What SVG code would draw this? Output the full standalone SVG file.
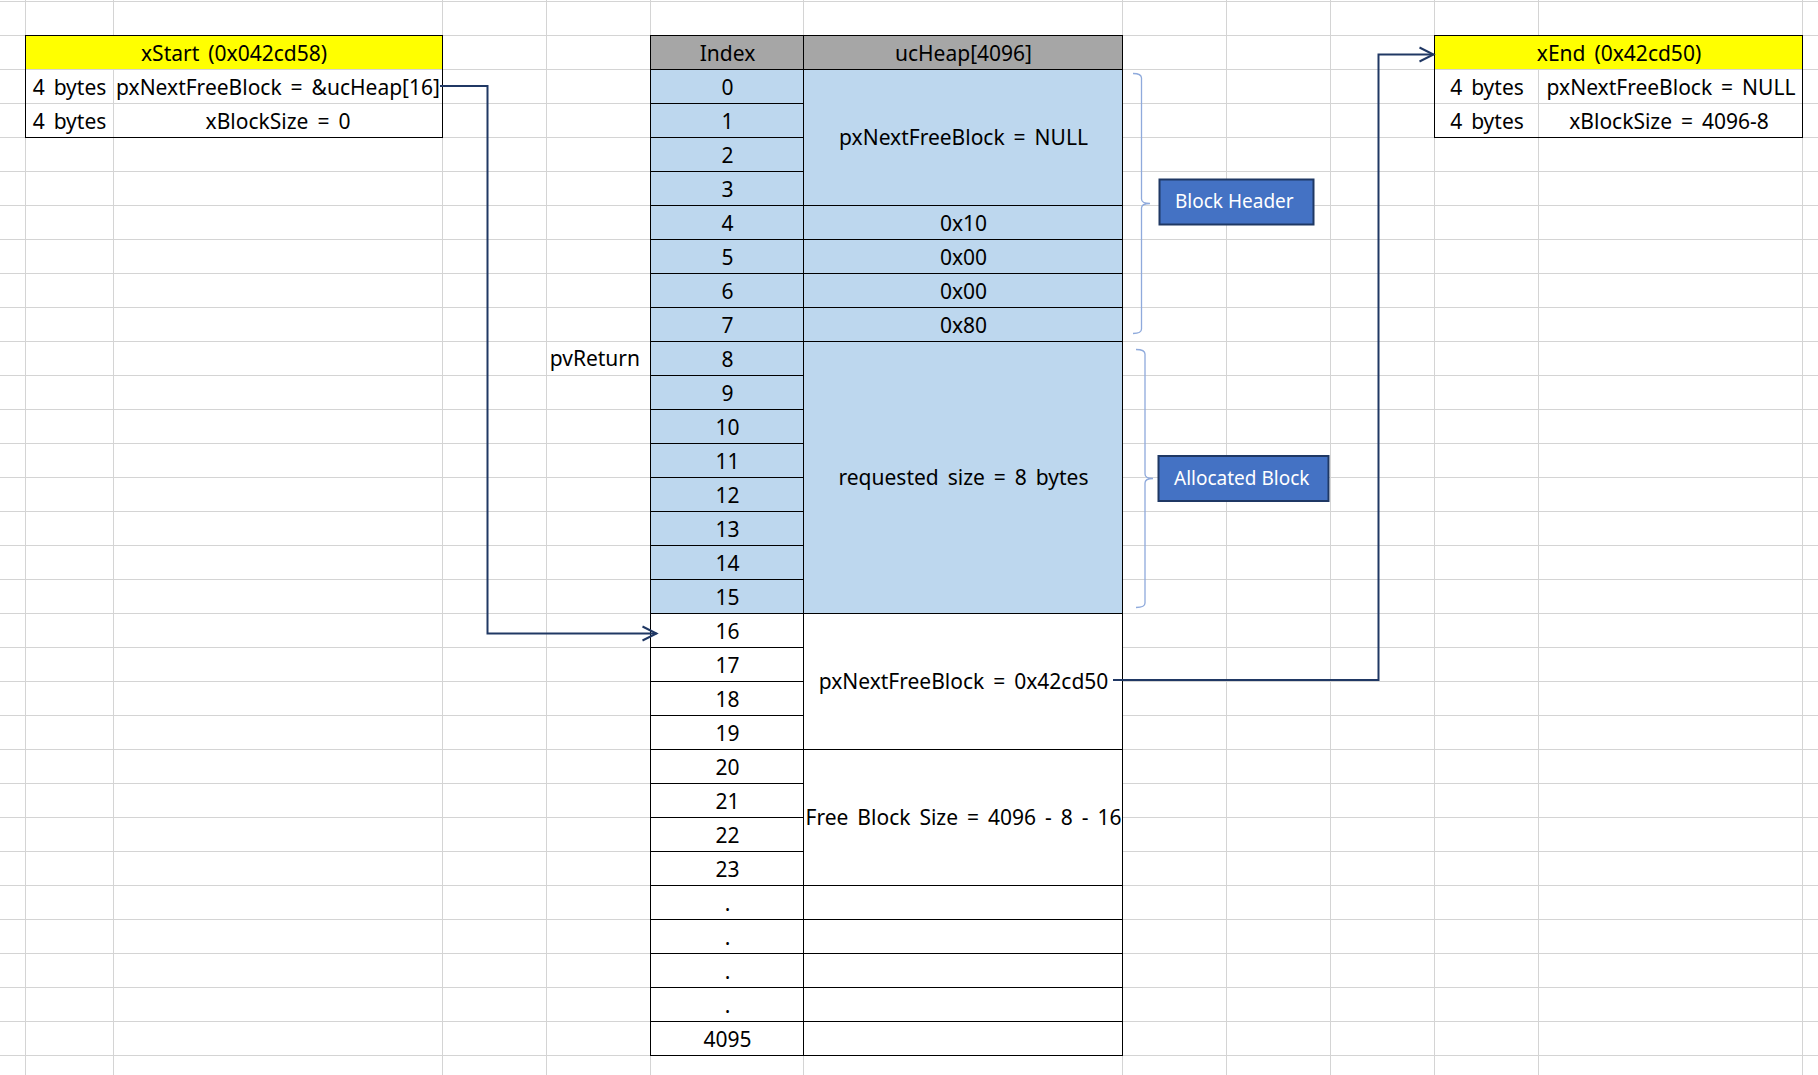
<svg xmlns="http://www.w3.org/2000/svg" width="1818" height="1075" viewBox="0 0 1818 1075">
  <defs>
    <style>
      .grid { stroke: #d4d4d4; stroke-width: 1; fill: none; }
      .t { font-family: "Noto Sans", "Open Sans", sans-serif; font-size: 21px; fill: #000; word-spacing: 3.5px; text-anchor: middle; }
      .end { text-anchor: end; }
      .bd { stroke: #000; stroke-width: 1; fill: none; }
      .conn { stroke: #203864; stroke-width: 2; fill: none; }
      .brace { stroke: #8faadc; stroke-width: 1.3; fill: none; }
      .tag { fill: #4472c4; stroke: #1f3864; stroke-width: 2; }
      .tagtxt { font-family: "Noto Sans", "Open Sans", sans-serif; font-size: 19px; fill: #fff; }
    </style>
    <marker id="open-arrow" markerUnits="userSpaceOnUse" markerWidth="18" markerHeight="18" refX="14" refY="7" orient="auto" overflow="visible">
      <path d="M0,0 L14,7 L0,14" fill="none" stroke="#203864" stroke-width="2"/>
    </marker>
  </defs>

  <rect width="1818" height="1075" fill="#fff"/>

  <!-- sheet gridlines -->
  <path class="grid" d="M25.5,0V1075M113.5,0V1075M442.5,0V1075M546.5,0V1075M650.5,0V1075M803.5,0V1075M1122.5,0V1075M1226.5,0V1075M1330.5,0V1075M1434.5,0V1075M1538.5,0V1075M1802.5,0V1075"/>
  <path class="grid" d="M0,1.5H1818M0,35.5H1818M0,69.5H1818M0,103.5H1818M0,137.5H1818M0,171.5H1818M0,205.5H1818M0,239.5H1818M0,273.5H1818M0,307.5H1818M0,341.5H1818M0,375.5H1818M0,409.5H1818M0,443.5H1818M0,477.5H1818M0,511.5H1818M0,545.5H1818M0,579.5H1818M0,613.5H1818M0,647.5H1818M0,681.5H1818M0,715.5H1818M0,749.5H1818M0,783.5H1818M0,817.5H1818M0,851.5H1818M0,885.5H1818M0,919.5H1818M0,953.5H1818M0,987.5H1818M0,1021.5H1818M0,1055.5H1818"/>

  <!-- xStart list head -->
  <g id="xStart">
    <rect x="26" y="36" width="416" height="33" fill="#ffff00"/>
    <rect class="bd" x="25.5" y="35.5" width="417" height="102"/>
    <text class="t" x="234" y="60.5">xStart (0x042cd58)</text>
    <text class="t" x="69.5" y="94.5">4 bytes</text>
    <text class="t" x="278" y="94.5">pxNextFreeBlock = &amp;ucHeap[16]</text>
    <text class="t" x="69.5" y="128.5">4 bytes</text>
    <text class="t" x="278" y="128.5">xBlockSize = 0</text>
  </g>

  <!-- xEnd list tail -->
  <g id="xEnd">
    <rect x="1435" y="36" width="367" height="33" fill="#ffff00"/>
    <rect class="bd" x="1434.5" y="35.5" width="368" height="102"/>
    <text class="t" x="1619" y="60.5">xEnd (0x42cd50)</text>
    <text class="t" x="1487" y="94.5">4 bytes</text>
    <text class="t" x="1671" y="94.5">pxNextFreeBlock = NULL</text>
    <text class="t" x="1487" y="128.5">4 bytes</text>
    <text class="t" x="1669" y="128.5">xBlockSize = 4096-8</text>
  </g>

  <!-- ucHeap array -->
  <g id="ucHeap">
    <rect x="651" y="36" width="471" height="33" fill="#a6a6a6"/>
    <rect x="651" y="70" width="471" height="543" fill="#bdd7ee"/>
    <rect x="651" y="614" width="471" height="441" fill="#fff"/>
    <rect class="bd" x="650.5" y="35.5" width="472" height="1020"/>
    <path class="bd" d="M803.5,35.5V1055.5"/>
    <!-- index column row lines -->
    <path class="bd" d="M650.5,69.5H803.5M650.5,103.5H803.5M650.5,137.5H803.5M650.5,171.5H803.5M650.5,205.5H803.5M650.5,239.5H803.5M650.5,273.5H803.5M650.5,307.5H803.5M650.5,341.5H803.5M650.5,375.5H803.5M650.5,409.5H803.5M650.5,443.5H803.5M650.5,477.5H803.5M650.5,511.5H803.5M650.5,545.5H803.5M650.5,579.5H803.5M650.5,613.5H803.5M650.5,647.5H803.5M650.5,681.5H803.5M650.5,715.5H803.5M650.5,749.5H803.5M650.5,783.5H803.5M650.5,817.5H803.5M650.5,851.5H803.5M650.5,885.5H803.5M650.5,919.5H803.5M650.5,953.5H803.5M650.5,987.5H803.5M650.5,1021.5H803.5"/>
    <!-- value column merged-cell lines -->
    <path class="bd" d="M803.5,69.5H1122.5M803.5,205.5H1122.5M803.5,239.5H1122.5M803.5,273.5H1122.5M803.5,307.5H1122.5M803.5,341.5H1122.5M803.5,613.5H1122.5M803.5,749.5H1122.5M803.5,885.5H1122.5M803.5,919.5H1122.5M803.5,953.5H1122.5M803.5,987.5H1122.5M803.5,1021.5H1122.5"/>

    <text class="t" x="727.5" y="60.5">Index</text>
    <text class="t" x="963.5" y="60.5">ucHeap[4096]</text>

    <text class="t" x="727.5" y="94.5">0</text>
    <text class="t" x="727.5" y="128.5">1</text>
    <text class="t" x="727.5" y="162.5">2</text>
    <text class="t" x="727.5" y="196.5">3</text>
    <text class="t" x="727.5" y="230.5">4</text>
    <text class="t" x="727.5" y="264.5">5</text>
    <text class="t" x="727.5" y="298.5">6</text>
    <text class="t" x="727.5" y="332.5">7</text>
    <text class="t" x="727.5" y="366.5">8</text>
    <text class="t" x="727.5" y="400.5">9</text>
    <text class="t" x="727.5" y="434.5">10</text>
    <text class="t" x="727.5" y="468.5">11</text>
    <text class="t" x="727.5" y="502.5">12</text>
    <text class="t" x="727.5" y="536.5">13</text>
    <text class="t" x="727.5" y="570.5">14</text>
    <text class="t" x="727.5" y="604.5">15</text>
    <text class="t" x="727.5" y="638.5">16</text>
    <text class="t" x="727.5" y="672.5">17</text>
    <text class="t" x="727.5" y="706.5">18</text>
    <text class="t" x="727.5" y="740.5">19</text>
    <text class="t" x="727.5" y="774.5">20</text>
    <text class="t" x="727.5" y="808.5">21</text>
    <text class="t" x="727.5" y="842.5">22</text>
    <text class="t" x="727.5" y="876.5">23</text>
    <text class="t" x="727.5" y="910.5">.</text>
    <text class="t" x="727.5" y="944.5">.</text>
    <text class="t" x="727.5" y="978.5">.</text>
    <text class="t" x="727.5" y="1012.5">.</text>
    <text class="t" x="727.5" y="1046.5">4095</text>

    <text class="t" x="963.5" y="145">pxNextFreeBlock = NULL</text>
    <text class="t" x="963.5" y="230.5">0x10</text>
    <text class="t" x="963.5" y="264.5">0x00</text>
    <text class="t" x="963.5" y="298.5">0x00</text>
    <text class="t" x="963.5" y="332.5">0x80</text>
    <text class="t" x="963.5" y="485">requested size = 8 bytes</text>
    <text class="t" x="963.5" y="689">pxNextFreeBlock = 0x42cd50</text>
    <text class="t" x="963.5" y="825">Free Block Size = 4096 - 8 - 16</text>
  </g>

  <!-- returned pointer label -->
  <g id="pvReturn">
    <text class="t end" x="640" y="366">pvReturn</text>
  </g>

  <!-- header range annotation -->
  <g id="blockHeader">
    <path class="brace" d="M1133,73.5 Q1141.5,73.5 1141.5,78 V199 Q1141.5,203.5 1150,203.5 Q1141.5,203.5 1141.5,208 V329 Q1141.5,333.5 1133,333.5"/>
    <rect class="tag" x="1159.5" y="179.5" width="154" height="45"/>
    <text class="tagtxt" x="1175" y="208">Block Header</text>
  </g>

  <!-- allocated range annotation -->
  <g id="allocatedBlock">
    <path class="brace" d="M1136,349.5 Q1145,349.5 1145,354 V474 Q1145,478.5 1153,478.5 Q1145,478.5 1145,483 V603 Q1145,607.5 1136,607.5"/>
    <rect class="tag" x="1158.5" y="456" width="170" height="45"/>
    <text class="tagtxt" x="1174" y="484.5">Allocated Block</text>
  </g>

  <!-- pointer links -->
  <g id="connectors">
    <path class="conn" d="M440,86 H487.5 V633.5 H656.5" marker-end="url(#open-arrow)"/>
    <path class="conn" d="M1113,680 H1378.5 V54.5 H1433.5" marker-end="url(#open-arrow)"/>
  </g>
</svg>
